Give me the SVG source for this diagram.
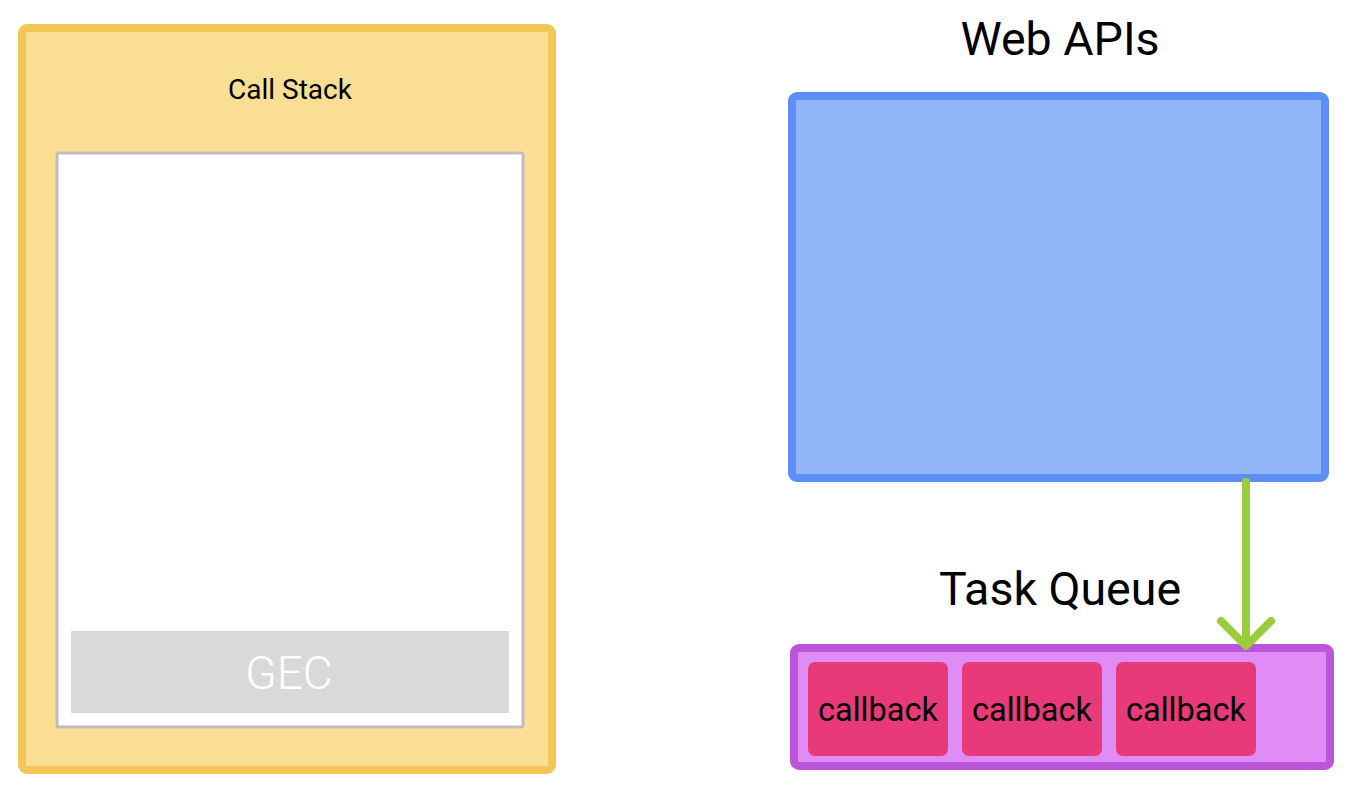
<svg xmlns="http://www.w3.org/2000/svg" width="1354" height="794" viewBox="0 0 1354 794">
<style>
text{font-family:Roboto,"Liberation Sans",sans-serif;text-anchor:middle;fill:#000}
.cb rect{fill:#e83a78}
.cb text{font-size:32.5px}
</style>
<rect width="1354" height="794" fill="#fff"/>
<g id="callstack">
<rect x="22" y="28" width="530" height="742" rx="5" fill="#f9de93" stroke="#f3c755" stroke-width="8"/>
<text x="290" y="99" font-size="28">Call Stack</text>
<rect x="57" y="153" width="466" height="574" rx="2" fill="#fff" stroke="#bdbdbd" stroke-width="3"/>
</g>
<g id="gec">
<rect x="71" y="631" width="438" height="82" fill="#d9d9d9"/>
<text x="289" y="689" font-size="46" style="fill:#fff;font-weight:300">GEC</text>
</g>
<g id="webapis">
<text x="1060" y="55" font-size="46.5">Web APIs</text>
<rect x="792" y="96" width="533" height="382" rx="5" fill="#92b5f7" stroke="#5b8ff7" stroke-width="8"/>
</g>
<g id="taskqueue">
<text x="1060" y="605" font-size="46.5">Task Queue</text>
<rect x="794" y="648" width="536" height="118" rx="5" fill="#e08cf7" stroke="#bb55d9" stroke-width="8"/>
</g>
<g id="cb1" class="cb"><rect x="808" y="662" width="140" height="94" rx="7"/><text x="878" y="721">callback</text></g>
<g id="cb2" class="cb"><rect x="962" y="662" width="140" height="94" rx="7"/><text x="1032" y="721">callback</text></g>
<g id="cb3" class="cb"><rect x="1116" y="662" width="140" height="94" rx="7"/><text x="1186" y="721">callback</text></g>
<g id="connectors" fill="none" stroke="#9acd3c" stroke-width="8" stroke-linecap="round" stroke-linejoin="round">
<line x1="1246" y1="482" x2="1246" y2="644"/>
<polyline points="1221,621 1246,646 1271,621"/>
</g>
</svg>
